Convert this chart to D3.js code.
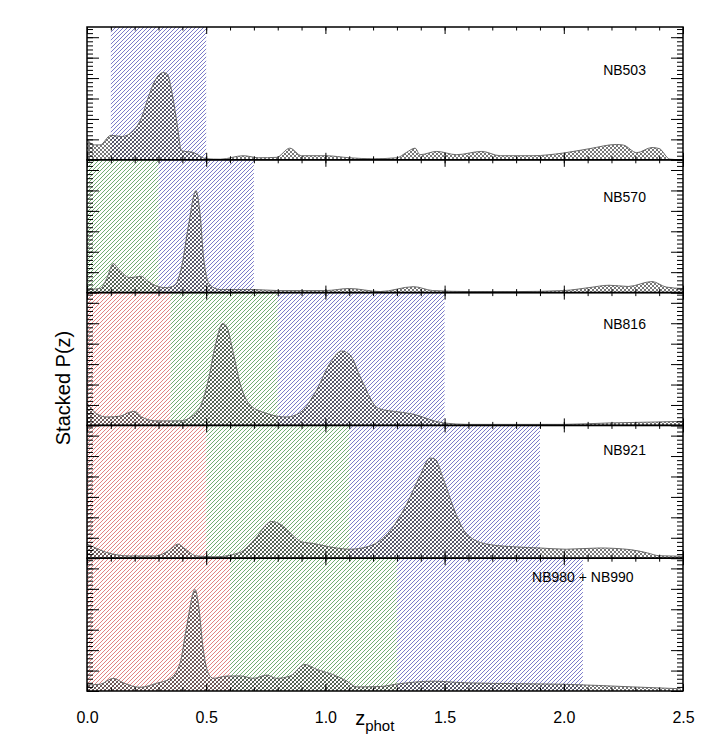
<!DOCTYPE html>
<html>
<head>
<meta charset="utf-8">
<script src="https://cdn.jsdelivr.net/npm/d3@7"></script>
<style>
  body { margin: 0; background: #fff; }
  svg { display: block; font-family: "Liberation Sans", Arial, Helvetica, sans-serif; }
</style>
</head>
<body>
<svg id="chart" width="709" height="747"></svg>
<script>
// panel names, top to bottom
var panelNames = ["NB503", "NB570", "NB816", "NB921", "NB980 + NB990"];
var xTickValues = [0, 0.5, 1.0, 1.5, 2.0, 2.5];
var xTickLabels = ["0.0", "0.5", "1.0", "1.5", "2.0", "2.5"];

// shaded redshift windows: [zmin, zmax, colour key]
var bands503 = [[0.1, 0.5, "b"]];
var bands570 = [[0, 0.3, "g"], [0.3, 0.7, "b"]];
var bands816 = [[0, 0.35, "r"], [0.35, 0.8, "g"], [0.8, 1.5, "b"]];
var bands921 = [[0, 0.5, "r"], [0.5, 1.1, "g"], [1.1, 1.9, "b"]];
var bands980 = [[0, 0.6, "r"], [0.6, 1.3, "g"], [1.3, 2.08, "b"]];

// stacked P(z): [z, P]
var pz503 = [[0,1.0],[0.03,0.73],[0.055,0.73],[0.1,1.2],[0.146,1.14],[0.194,1.42],[0.229,2.07],[0.257,3.05],[0.285,3.87],[0.32,4.27],[0.337,4.19],[0.355,3.38],[0.376,1.91],[0.397,0.44],[0.446,0.36],[0.5,0.05],[0.56,0.03],[0.656,0.2],[0.72,0.1],[0.795,0.12],[0.851,0.57],[0.9,0.2],[1.0,0.2],[1.1,0.1],[1.2,0.05],[1.3,0.1],[1.34,0.36],[1.376,0.57],[1.397,0.25],[1.467,0.41],[1.55,0.25],[1.656,0.41],[1.733,0.2],[1.871,0.2],[1.997,0.33],[2.11,0.55],[2.22,0.75],[2.25,0.72],[2.306,0.35],[2.37,0.6],[2.4,0.55],[2.445,0.03],[2.5,0]];
var pz570 = [[0,0.15],[0.055,0.2],[0.083,0.69],[0.11,1.42],[0.131,1.17],[0.18,0.73],[0.229,0.8],[0.25,0.6],[0.3,0.29],[0.334,0.24],[0.369,0.37],[0.397,1.27],[0.425,3.23],[0.457,4.99],[0.474,3.88],[0.49,1.6],[0.516,0.37],[0.558,0.15],[0.7,0.15],[0.8,0.1],[0.893,0.1],[1.0,0.1],[1.1,0.2],[1.23,0.05],[1.37,0.29],[1.45,0.1],[1.61,0.05],[1.81,0.05],[2.0,0.1],[2.11,0.25],[2.19,0.36],[2.27,0.3],[2.37,0.54],[2.43,0.27],[2.5,0.2]];
var pz816 = [[0,1.1],[0.04,0.57],[0.083,0.41],[0.138,0.45],[0.18,0.65],[0.2,0.69],[0.229,0.41],[0.292,0.22],[0.39,0.22],[0.446,0.5],[0.481,1.08],[0.509,2.22],[0.537,3.85],[0.569,4.99],[0.586,4.83],[0.614,3.53],[0.642,2.06],[0.684,1.0],[0.753,0.59],[0.837,0.41],[0.893,0.62],[0.963,1.73],[1.019,3.04],[1.068,3.64],[1.103,3.45],[1.152,2.22],[1.222,0.83],[1.313,0.65],[1.36,0.57],[1.495,0.12],[1.6,0.05],[1.88,0.05],[2.0,0.05],[2.19,0.12],[2.4,0.17],[2.5,0.2]];
var pz921 = [[0,0.69],[0.027,0.55],[0.083,0.28],[0.18,0.11],[0.29,0.11],[0.341,0.36],[0.383,0.69],[0.404,0.52],[0.46,0.11],[0.54,0.07],[0.642,0.28],[0.698,0.85],[0.775,1.8],[0.81,1.67],[0.866,1.09],[0.9,0.8],[0.95,0.72],[1.02,0.55],[1.103,0.44],[1.187,0.6],[1.271,1.34],[1.341,2.65],[1.397,4.04],[1.439,4.9],[1.46,4.85],[1.495,3.87],[1.537,2.48],[1.593,1.18],[1.677,0.69],[1.803,0.55],[1.9,0.5],[2.01,0.44],[2.15,0.5],[2.278,0.42],[2.35,0.26],[2.4,0.12],[2.5,0.1]];
var pz980 = [[0,0.3],[0.055,0.33],[0.11,0.62],[0.152,0.4],[0.222,0.18],[0.292,0.38],[0.348,0.6],[0.39,1.35],[0.418,3.15],[0.453,4.97],[0.467,4.28],[0.488,2.0],[0.509,0.86],[0.53,0.62],[0.586,0.73],[0.642,0.74],[0.698,0.62],[0.754,0.78],[0.795,0.62],[0.851,0.73],[0.914,1.3],[0.963,1.06],[1.033,0.8],[1.089,0.49],[1.131,0.2],[1.23,0.22],[1.3,0.34],[1.453,0.48],[1.59,0.4],[1.8,0.36],[2.0,0.33],[2.29,0.2],[2.49,0.11]];

var allBands = [bands503, bands570, bands816, bands921, bands980];
var allPz = [pz503, pz570, pz816, pz921, pz980];
// where the panel names start, in z
var labelZ = [2.165, 2.165, 2.165, 2.165, 1.867];

var hatchColor = { r: "#d03a3a", g: "#1f7a1f", b: "#2e2ea8" };

(function() {
var plotLeft = 87, plotRight = 683, plotTop = 27, panelH = 132.8;
var hatchStep = 4, hatchPhase = 3;

var svg = d3.select("#chart");
var defs = svg.append("defs");

var x = d3.scaleLinear().domain([0, 2.5]).range([plotLeft, plotRight]);

// 45 degree hatch lines; odd integer intercepts keep them on pixel centres.
// dir 1: "/" (x + y = c), dir -1: "\" (x - y = c)
function hatchLines(x0, x1, y0, y1, dir) {
    var out = [], c, cMin, cMax;
    if (dir > 0) { cMin = x0 + y0; cMax = x1 + y1; }
    else { cMin = x0 - y1; cMax = x1 - y0; }
    for (c = Math.floor(cMin / hatchStep) * hatchStep - hatchStep + hatchPhase; c <= cMax + hatchStep; c += hatchStep) {
        if (dir > 0) out.push([c - y1, y1, c - y0, y0]);
        else out.push([c + y0, y0, c + y1, y1]);
    }
    return out;
}

function drawLines(sel, data) {
    return sel.selectAll(null)
        .data(data)
        .enter().append("line")
        .attr("x1", function(d) { return d[0]; })
        .attr("y1", function(d) { return d[1]; })
        .attr("x2", function(d) { return d[2]; })
        .attr("y2", function(d) { return d[3]; });
}

allPz.forEach(function(data, i) {
    var y0 = plotTop + i * panelH, y1 = y0 + panelH;
    var y = d3.scaleLinear().domain([0, 6.5]).range([y1, y0]);

    var g = svg.append("g").attr("class", "panel");
    var inner = g.append("g");

    // coloured windows
    allBands[i].forEach(function(b, j) {
        var cid = "band" + i + "_" + j;
        defs.append("clipPath").attr("id", cid)
            .append("rect")
            .attr("x", x(b[0])).attr("y", y0)
            .attr("width", x(b[1]) - x(b[0])).attr("height", panelH);
        var bg = inner.append("g").attr("clip-path", "url(#" + cid + ")");
        drawLines(bg, hatchLines(x(b[0]), x(b[1]), y0, y1, 1))
            .attr("stroke", hatchColor[b[2]])
            .attr("stroke-width", 0.85)
            .attr("stroke-opacity", 0.75);
    });

    var area = d3.area()
        .x(function(d) { return x(d[0]); })
        .y0(y(0))
        .y1(function(d) { return y(d[1]); })
        .curve(d3.curveMonotoneX);

    var line = d3.line()
        .x(function(d) { return x(d[0]); })
        .y(function(d) { return y(d[1]); })
        .curve(d3.curveMonotoneX);

    // cross hatch inside the P(z) curve
    var aid = "area" + i;
    defs.append("clipPath").attr("id", aid)
        .append("path").attr("d", area(data));
    var cg = inner.append("g").attr("clip-path", "url(#" + aid + ")");
    drawLines(cg, hatchLines(plotLeft, plotRight, y0, y1, 1));
    drawLines(cg, hatchLines(plotLeft, plotRight, y0, y1, -1));
    cg.selectAll("line")
        .attr("stroke", "#1a1a1a")
        .attr("stroke-width", 0.8)
        .attr("stroke-opacity", 0.75);

    inner.append("path")
        .attr("d", line(data))
        .attr("fill", "none")
        .attr("stroke", "#6a6a6a")
        .attr("stroke-width", 1);

    // y ticks, left and right, pointing inward
    var minorY = d3.range(0, 6.51, 0.2);
    var majorY = d3.range(0, 7, 1);
    [[d3.axisRight, plotLeft], [d3.axisLeft, plotRight]].forEach(function(a) {
        g.append("g").attr("transform", "translate(" + a[1] + ",0)")
            .call(a[0](y).tickValues(minorY).tickSize(6).tickFormat(""))
            .call(function(s) { s.select(".domain").remove(); });
        g.append("g").attr("transform", "translate(" + a[1] + ",0)")
            .call(a[0](y).tickValues(majorY).tickSize(12).tickFormat(""))
            .call(function(s) { s.select(".domain").remove(); });
    });

    // x ticks on top and bottom edges
    var minorX = d3.range(0, 2.51, 0.1);
    [[d3.axisBottom, y0], [d3.axisTop, y1]].forEach(function(a) {
        g.append("g").attr("transform", "translate(0," + a[1] + ")")
            .call(a[0](x).tickValues(minorX).tickSize(3.5).tickFormat(""))
            .call(function(s) { s.select(".domain").remove(); });
        g.append("g").attr("transform", "translate(0," + a[1] + ")")
            .call(a[0](x).tickValues(xTickValues).tickSize(7).tickFormat(""))
            .call(function(s) { s.select(".domain").remove(); });
    });

    g.selectAll(".tick line").attr("stroke", "#000").attr("stroke-width", 1);

    g.append("rect")
        .attr("x", plotLeft).attr("y", y0)
        .attr("width", plotRight - plotLeft).attr("height", panelH)
        .attr("fill", "none")
        .attr("stroke", "#000")
        .attr("stroke-width", 1.5);

    g.append("text")
        .attr("x", x(labelZ[i]))
        .attr("y", y0 + 48.3 - 6.2 * i)
        .attr("font-size", 14)
        .attr("fill", "#000")
        .text(panelNames[i]);
});

// x tick labels under the bottom panel
var plotBottom = plotTop + 5 * panelH;
svg.append("g")
    .attr("transform", "translate(0," + plotBottom + ")")
    .call(d3.axisBottom(x).tickValues(xTickValues).tickSize(0).tickPadding(21)
        .tickFormat(function(d, i) { return xTickLabels[i]; }))
    .call(function(s) { s.select(".domain").remove(); })
    .selectAll("text")
    .attr("font-size", 16)
    .attr("font-family", "Liberation Sans, Arial, sans-serif")
    .attr("fill", "#000");

var xl = svg.append("text")
    .attr("x", x(1.125))
    .attr("y", plotBottom + 34)
    .attr("font-size", 20)
    .attr("fill", "#000")
    .text("z");
xl.append("tspan")
    .attr("dy", 6)
    .attr("font-size", 15)
    .text("phot");

svg.append("text")
    .attr("transform", "translate(70,388) rotate(-90)")
    .attr("text-anchor", "middle")
    .attr("font-size", 20)
    .attr("fill", "#000")
    .text("Stacked P(z)");
})();
</script>
</body>
</html>
